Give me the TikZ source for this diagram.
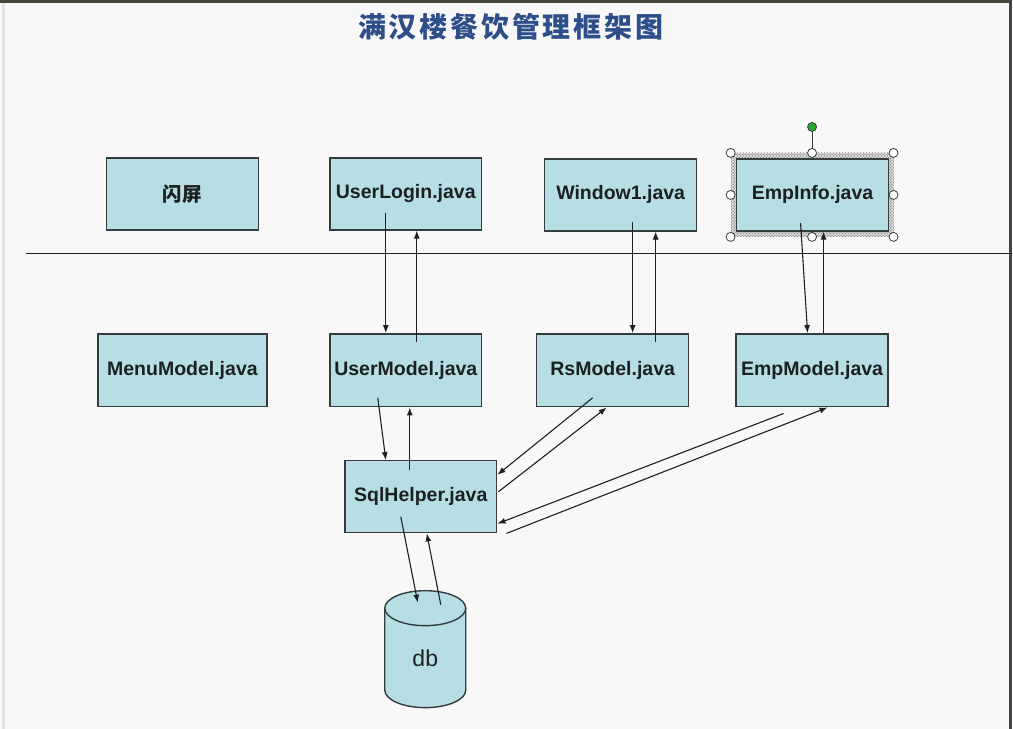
\documentclass[tikz,border=0pt]{standalone}
\usepackage{fontspec}
\setmainfont{Liberation Sans}
\newfontfamily\cjk{Noto Sans CJK SC}
\newfontfamily\titlefont[LetterSpace=10]{Noto Sans CJK SC}
\usetikzlibrary{arrows.meta,calc,patterns}
\definecolor{pagebg}{RGB}{248,248,248}
\definecolor{framedark}{RGB}{68,70,62}
\definecolor{boxfill}{RGB}{182,222,228}
\definecolor{boxline}{RGB}{52,60,62}
\definecolor{textdark}{RGB}{28,32,34}
\definecolor{titleblue}{RGB}{46,78,138}
\definecolor{handlegreen}{RGB}{40,170,40}
\tikzset{
  modbox/.style={draw=boxline,fill=boxfill,line width=1.4pt,minimum width=152,minimum height=72,inner sep=0pt,
                 font=\fontsize{19.5}{22}\selectfont\bfseries,text=textdark},
  arr/.style={draw=textdark,line width=1.1pt,-{Latex[length=8pt,width=6pt]}},
  handle/.style={draw=boxline,fill=white,line width=0.8pt}
}
\begin{document}
\begin{tikzpicture}[x=1pt,y=1pt,yscale=-1]
    % page
    \fill[pagebg] (0,0) rectangle (1013,729);
    \fill[framedark] (0,0) rectangle (1013,3);
    \fill[framedark] (1010,0) rectangle (1013,729);
    \fill[gray!22] (2,3) rectangle (5,729);
    % title
    \node[text=titleblue,font=\titlefont\fontsize{28}{30}\selectfont\bfseries] (title) at (511,27) {满汉楼餐饮管理框架图};
    % divider
    \draw[draw=textdark,line width=1.1pt] (26,254) -- (1013,254);
    % selection frame
    \fill[gray!30] (731,153) rectangle (894,237);
    \fill[pattern=crosshatch dots,pattern color=gray!60!black] (731,153) rectangle (894,237);
    \draw[boxline,line width=1pt] (812.5,131) -- (812.5,153);
    % upper row
    \node[modbox] (splash) at (182.5,194) {\cjk\bfseries 闪屏};
    \node[modbox] (login) at (406,194) {UserLogin.java};
    \node[modbox] (win) at (621,195) {Window1.java};
    \node[modbox] (emp) at (813,195) {EmpInfo.java};
    \foreach \hx/\hy in {731/153,812.5/153,894/153,731/195,894/195,731/237,812.5/237,894/237}
        \draw[handle] (\hx,\hy) circle (4.5);
    \draw[draw=boxline,fill=handlegreen,line width=0.8pt] (812.5,127) circle (4.5);
    % lower row
    \node[modbox,minimum width=169,minimum height=73] (menu) at (182.5,370.5) {MenuModel.java};
    \node[modbox,minimum height=73] (umodel) at (406,370.5) {UserModel.java};
    \node[modbox,minimum height=73] (rs) at (613,370.5) {RsModel.java};
    \node[modbox,minimum height=73] (empm) at (812.5,370.5) {EmpModel.java};
    \node[modbox] (sql) at (421,497) {SqlHelper.java};
    % db cylinder
    \draw[draw=boxline,fill=boxfill,line width=1.4pt] (385,608.5) -- (385,690.5)
        arc[start angle=180,end angle=0,x radius=40.5,y radius=17.5] -- (466,608.5);
    \draw[draw=boxline,fill=boxfill,line width=1.4pt] (425.5,608.5) ellipse [x radius=40.5,y radius=17.5];
    \coordinate (dbtop) at (425.5,608.5);
    \node[text=textdark,font=\fontsize{23}{25}\selectfont] (db) at (425.5,659) {db};
    % connectors
    \draw[arr] ($(login)+(-20,19)$) -- ($(umodel.north)+(-20,0)$);
    \draw[arr] ($(umodel)+(11,-28.5)$) -- ($(login.south)+(11,0)$);
    \draw[arr] ($(win)+(12,27)$) -- ($(rs.north)+(20,0)$);
    \draw[arr] ($(rs)+(43,-28.5)$) -- ($(win.south)+(35,0)$);
    \draw[arr] ($(emp)+(-12,28)$) -- ($(empm.north)+(-4.5,0)$);
    \draw[arr] ($(empm.north)+(11.5,0)$) -- ($(emp.south)+(11,0)$);
    \draw[arr] ($(umodel)+(-28,27.5)$) -- ($(sql.north)+(-35,0)$);
    \draw[arr] ($(sql)+(-11,-27)$) -- ($(umodel.south)+(4,0)$);
    \draw[arr] ($(rs)+(-20,27.5)$) -- ($(sql.east)+(0,-22)$);
    \draw[arr] ($(sql.east)+(1,-5)$) -- ($(rs.south)+(-6,0)$);
    \draw[arr] ($(empm.south)+(-28.5,6)$) -- ($(sql.east)+(0,27)$);
    \draw[arr] ($(sql.south east)+(9,0)$) -- ($(empm.south)+(15.5,0)$);
    \draw[arr] ($(sql)+(-20,20)$) -- ($(dbtop)+(-7.5,-5.5)$);
    \draw[arr] ($(dbtop)+(15.5,-3.5)$) -- ($(sql.south)+(6,0)$);
\end{tikzpicture}
\end{document}
